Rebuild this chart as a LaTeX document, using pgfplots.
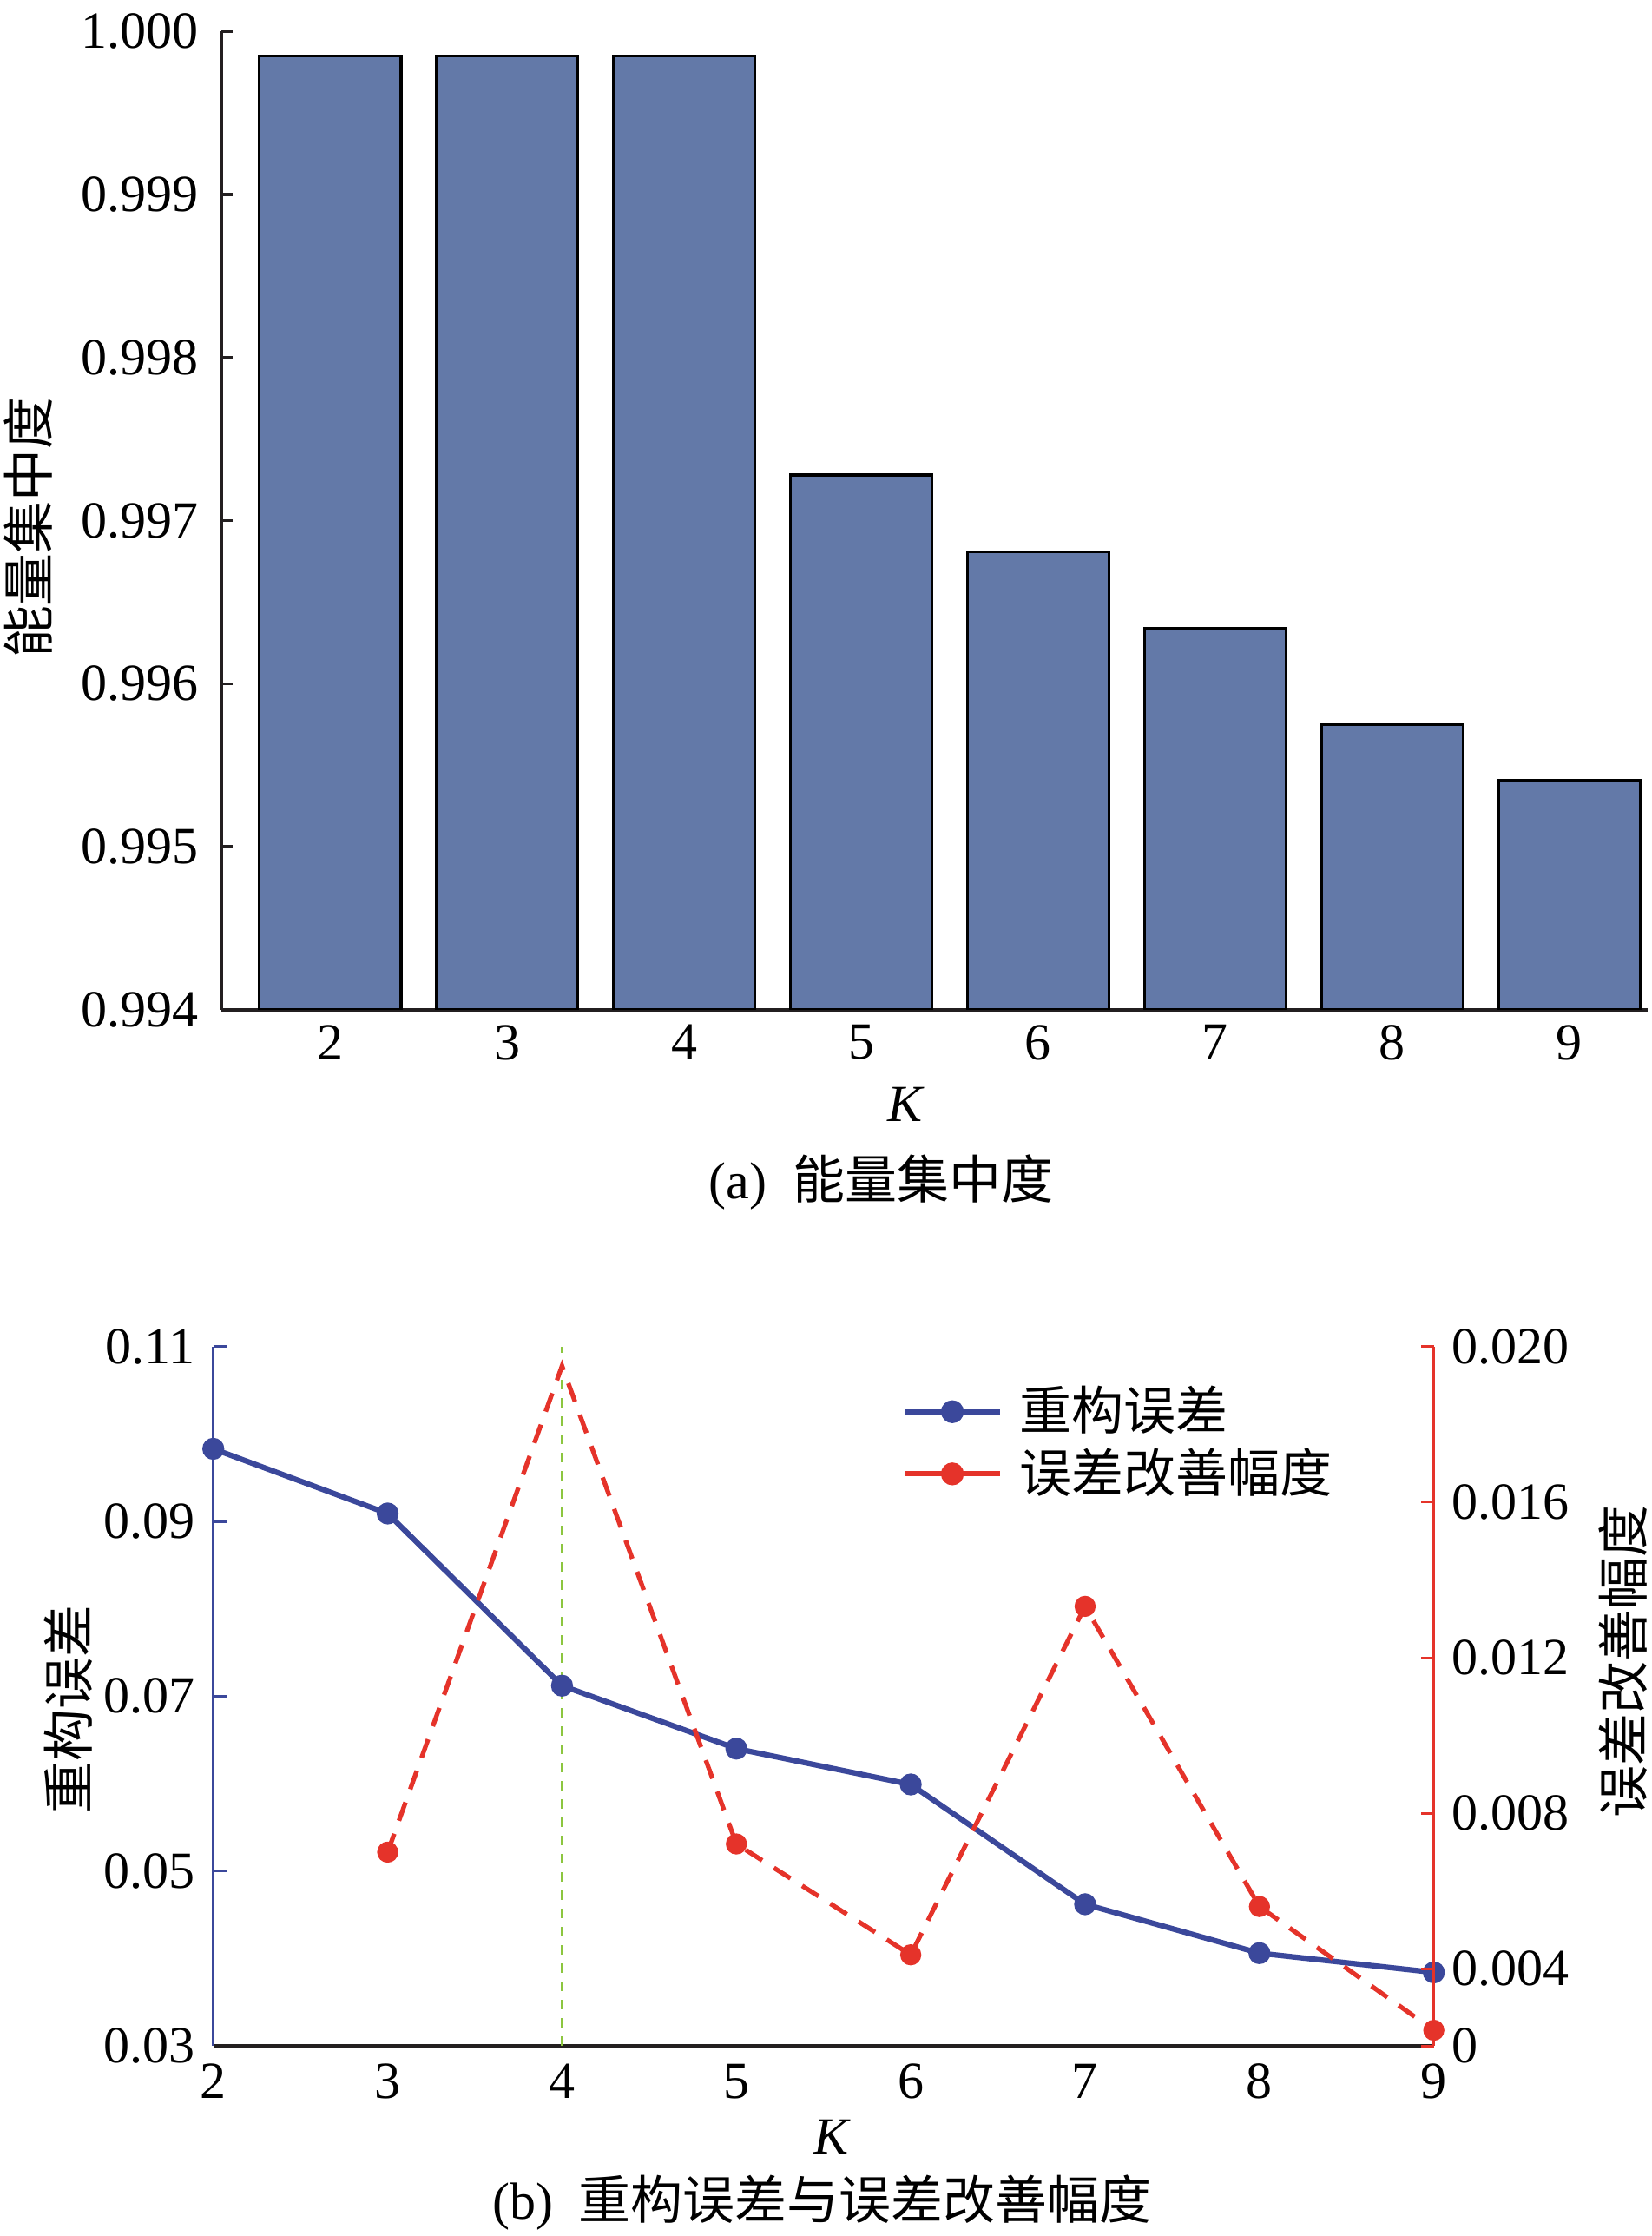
\documentclass[border=0pt]{standalone}
\usepackage{fontspec}
\setmainfont{Liberation Serif}
\newfontfamily\cjk{Noto Sans CJK SC}
\usepackage{pgfplots}
\pgfplotsset{compat=1.18}
\definecolor{barblue}{RGB}{99,121,168}
\definecolor{lineblue}{RGB}{59,72,155}
\definecolor{linered}{RGB}{229,51,42}
\definecolor{linegreen}{RGB}{140,198,63}
\definecolor{axisblack}{RGB}{35,31,32}
\pgfplotsset{every axis/.append style={/pgf/number format/assume math mode=true, scaled y ticks=false, scaled x ticks=false}}
\begin{document}
\fontsize{12}{14.4}\selectfont
\begin{tikzpicture}
\path[use as bounding box] (0pt,0pt) rectangle (380.6pt,515pt);
% ---------------- (a) ----------------
\begin{axis}[
  at={(51pt,282.4pt)}, anchor=south west,
  scale only axis, width=328.6pt, height=225.4pt,
  xmin=1.385, xmax=9.443, ymin=0.994, ymax=1.000,
  axis x line*=bottom, axis y line*=left,
  axis line style={line width=0.7pt, draw=axisblack, -},
  xtick={2,3,4,5,6,7,8,9},
  x tick style={draw=none},
  xticklabel style={yshift=3.3pt},
  ytick={0.994,0.995,0.996,0.997,0.998,0.999,1.000},
  y tick style={line width=0.7pt, draw=axisblack},
  tick align=inside, major tick length=2.6pt,
  yticklabel style={xshift=-1pt, /pgf/number format/.cd, fixed, fixed zerofill, precision=3},
  xlabel={\textit{K}},
  xlabel style={at={(axis description cs:0.480,-0.0967)}, anchor=center},
  ylabel={\cjk 能量集中度},
  ylabel style={at={(axis description cs:-0.1351,0.493)}, anchor=center},
  ybar, bar width=0.8,
]
\addplot[fill=barblue, draw=black, line width=0.65pt] coordinates {
  (2,0.99985) (3,0.99985) (4,0.99985) (5,0.99728)
  (6,0.99681) (7,0.99634) (8,0.99575) (9,0.99541)};
\end{axis}
\node[anchor=center] at (203pt,242.6pt) {(a)\hspace{6pt}{\cjk 能量集中度}};
% ---------------- (b) ----------------
\begin{axis}[
  name=left,
  at={(49.14pt,43.8pt)}, anchor=south west,
  scale only axis, width=281.2pt, height=161.06pt,
  xmin=2, xmax=9, ymin=0.03, ymax=0.11,
  axis x line*=bottom, axis y line*=left,
  x axis line style={draw=axisblack, line width=0.9pt, -},
  y axis line style={draw=lineblue, line width=0.6pt, -},
  xtick={2,3,4,5,6,7,8,9}, x tick style={draw=none},
  ytick={0.03,0.05,0.07,0.09,0.11},
  y tick style={draw=lineblue, line width=0.6pt},
  tick align=inside, major tick length=3pt,
  yticklabel style={/pgf/number format/.cd, fixed, fixed zerofill, precision=2},
  clip=false,
  xlabel={\textit{K}},
  xlabel style={at={(axis description cs:0.507,-0.130)}, anchor=center},
  ylabel={\cjk 重构误差},
  ylabel style={at={(axis description cs:-0.1186,0.481)}, anchor=center},
]
\addplot[lineblue, line width=1.25pt, mark=*, mark size=1.9pt, mark options={fill=lineblue}] coordinates {
  (2,0.0983) (3,0.0909) (4,0.0712) (5,0.0640)
  (6,0.0599) (7,0.0462) (8,0.0406) (9,0.0384)};
\addplot[linegreen, line width=0.65pt, dash pattern=on 2.2pt off 2pt] coordinates {(4,0.03) (4,0.11)};
\end{axis}
\begin{axis}[
  at={(49.14pt,43.8pt)}, anchor=south west,
  scale only axis, width=281.2pt, height=161.06pt,
  xmin=2, xmax=9, ymin=0.00202, ymax=0.020,
  axis x line=none, axis y line*=right,
  y axis line style={draw=linered, line width=0.6pt, -},
  xtick=\empty,
  ytick={0.00202,0.004,0.008,0.012,0.016,0.020},
  yticklabels={0,0.004,0.008,0.012,0.016,0.020},
  y tick style={draw=linered, line width=0.6pt},
  tick align=inside, major tick length=3pt,
  clip=false,
  ylabel={\cjk 误差改善幅度},
  ylabel style={at={(axis description cs:1.155,0.550)}, anchor=center},
  legend style={at={(axis description cs:0.5635,0.945)}, anchor=north west,
    draw=none, fill=none, inner sep=0pt, row sep=2.4pt,
    font=\fontsize{12}{14.4}\selectfont\cjk,
    nodes={inner sep=0pt},
    /tikz/every odd column/.append style={column sep=3.8pt}},
  legend cell align=left,
  legend image code/.code={\draw[mark repeat=2,mark phase=2] plot coordinates {(0pt,0pt)(11pt,0pt)(22pt,0pt)};},
]
\addlegendimage{lineblue, line width=1.25pt, mark=*, mark size=2pt, mark options={fill=lineblue}}
\addlegendentry{重构误差}
\addplot[linered, line width=1.05pt, dash pattern=on 4.5pt off 3.2pt, mark=*, mark size=1.9pt,
  mark options={solid, fill=linered}, mark indices={1,3,4,5,6,7}, forget plot] coordinates {
  (3,0.00700) (4,0.01950) (5,0.00721) (6,0.00436)
  (7,0.01332) (8,0.00560) (9,0.00242)};
\addlegendimage{linered, line width=1.25pt, solid, mark=*, mark size=2pt, mark options={fill=linered}}
\addlegendentry{误差改善幅度}
\end{axis}
\node[anchor=center] at (189.4pt,7.6pt) {(b)\hspace{6pt}{\cjk 重构误差与误差改善幅度}};
\end{tikzpicture}
\end{document}
